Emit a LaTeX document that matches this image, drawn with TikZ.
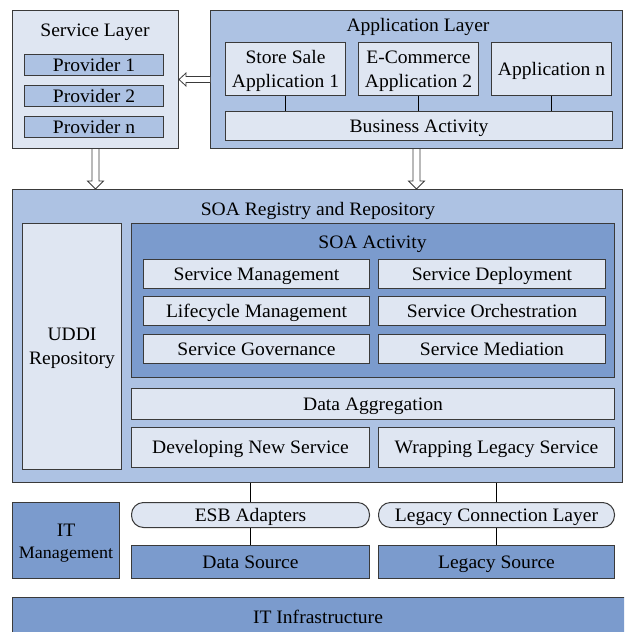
\documentclass[tikz,border=0pt]{standalone}
\usepackage{fontspec}
\setmainfont{Liberation Serif}[FakeStretch=1.03]
\usetikzlibrary{calc}
\definecolor{lightc}{HTML}{DFE6F2}
\definecolor{midc}{HTML}{ADC2E3}
\definecolor{darkc}{HTML}{7B9BCD}
\definecolor{edgec}{HTML}{3A3A3A}
\tikzset{
  base/.style={draw=edgec, line width=1pt, anchor=north west, inner sep=0pt, align=center,
    font=\fontsize{19}{24}\selectfont, text height=12.5pt, text depth=0pt},
  twoline/.style={text height=36.5pt, text depth=0pt},
  lightbox/.style={base, fill=lightc},
  midbox/.style={base, fill=midc},
  darkbox/.style={base, fill=darkc},
  pillbox/.style={base, fill=lightc, rounded corners=12pt},
  title/.style={inner sep=0pt, font=\fontsize{19}{24}\selectfont, align=center, text height=12.5pt, text depth=0pt},
  link/.style={draw=black, line width=1pt},
  hollow/.style={draw=edgec, line width=0.8pt, fill=white, line join=miter}
}
\begin{document}
\begin{tikzpicture}[x=1pt,y=-1pt]
\useasboundingbox (0,0) rectangle (624,632);
\begin{scope}
\clip (0,0) rectangle (624,632);
% Service layer
\node[lightbox, minimum width=166pt, minimum height=138pt] (sl) at (12,10) {};
\node[title] (slt) at (95,30) {Service Layer};
\node[midbox, minimum width=139pt, minimum height=21pt] (p1) at (24,54) {Provider 1};
\node[midbox, minimum width=139pt, minimum height=21pt] (p2) at (24,85) {Provider 2};
\node[midbox, minimum width=139pt, minimum height=21pt] (pn) at (24,116) {Provider n};
% Application layer
\node[midbox, minimum width=412pt, minimum height=138pt] (al) at (210,10) {};
\node[title] (alt) at (418,25) {Application Layer};
\node[lightbox, twoline, minimum width=120pt, minimum height=53pt] (a1) at (225,42) {Store Sale\\Application 1};
\node[lightbox, twoline, minimum width=120pt, minimum height=53pt] (a2) at (358,42) {E-Commerce\\Application 2};
\node[lightbox, minimum width=120pt, minimum height=53pt] (an) at (491,42) {Application n};
\node[lightbox, minimum width=387pt, minimum height=29pt] (ba) at (225,111) {Business Activity};
\draw[link] (a1.south) -- (a1.south |- ba.north);
\draw[link] (a2.south) -- (a2.south |- ba.north);
\draw[link] (an.south) -- (an.south |- ba.north);
% SOA registry
\node[midbox, minimum width=610pt, minimum height=293pt] (reg) at (12,189) {};
\node[title] (regt) at (318,209) {SOA Registry and Repository};
\node[lightbox, twoline, minimum width=99pt, minimum height=246pt] (uddi) at (22,223) {UDDI\\Repository};
\node[darkbox, minimum width=483pt, minimum height=154pt] (act) at (131,223) {};
\node[title] (actt) at (372.5,242) {SOA Activity};
\node[lightbox, minimum width=226pt, minimum height=29pt] (sm) at (143,259) {Service Management};
\node[lightbox, minimum width=227pt, minimum height=29pt] (sd) at (378,259) {Service Deployment};
\node[lightbox, minimum width=226pt, minimum height=29pt] (lm) at (143,296) {Lifecycle Management};
\node[lightbox, minimum width=227pt, minimum height=29pt] (so) at (378,296) {Service Orchestration};
\node[lightbox, minimum width=226pt, minimum height=29pt] (sg) at (143,334) {Service Governance};
\node[lightbox, minimum width=227pt, minimum height=29pt] (smd) at (378,334) {Service Mediation};
\node[lightbox, minimum width=483pt, minimum height=31pt] (da) at (131,388) {Data Aggregation};
\node[lightbox, minimum width=238pt, minimum height=40pt] (dns) at (131,427) {Developing New Service};
\node[lightbox, minimum width=236pt, minimum height=40pt] (wls) at (378,427) {Wrapping Legacy Service};
% Bottom layers
\node[darkbox, text height=36pt, text depth=0pt, minimum width=107pt, minimum height=76pt] (itm) at (12,502) {IT\\[-2pt]{\fontsize{17.5}{21}\selectfont Management}};
\node[pillbox, minimum width=238pt, minimum height=25pt] (esb) at (131,502) {ESB Adapters};
\node[pillbox, minimum width=236pt, minimum height=25pt] (lcl) at (378,502) {Legacy Connection Layer};
\node[darkbox, minimum width=238pt, minimum height=33pt] (ds) at (131,545) {Data Source};
\node[darkbox, minimum width=236pt, minimum height=33pt] (ls) at (378,545) {Legacy Source};
\node[darkbox, minimum width=616pt, minimum height=40pt] (iti) at (12,597) {};
\node[title] (itit) at (318,617) {IT Infrastructure};
\coordinate (c1) at (250,0);
\coordinate (c2) at (496,0);
\draw[link] (c1 |- reg.south) -- (c1 |- esb.north);
\draw[link] (c2 |- reg.south) -- (c2 |- lcl.north);
\draw[link] (c1 |- esb.south) -- (c1 |- ds.north);
\draw[link] (c2 |- lcl.south) -- (c2 |- ls.north);
% Hollow arrows
\draw[hollow] ($(al.west)+(0,-3)$) -- ($(sl.east)+(7,-3)$) -- ($(sl.east)+(7,-6.5)$) -- (sl.east)
  -- ($(sl.east)+(7,6.5)$) -- ($(sl.east)+(7,3)$) -- ($(al.west)+(0,3)$);
\draw[hollow] ($(sl.south)+(-3.5,0)$) -- ($(sl.south |- reg.north)+(-3.5,-8)$) -- ($(sl.south |- reg.north)+(-8,-8)$)
  -- (sl.south |- reg.north) -- ($(sl.south |- reg.north)+(8,-8)$) -- ($(sl.south |- reg.north)+(3.5,-8)$) -- ($(sl.south)+(3.5,0)$);
\draw[hollow] ($(al.south)+(-3.5,0)$) -- ($(al.south |- reg.north)+(-3.5,-8)$) -- ($(al.south |- reg.north)+(-8,-8)$)
  -- (al.south |- reg.north) -- ($(al.south |- reg.north)+(8,-8)$) -- ($(al.south |- reg.north)+(3.5,-8)$) -- ($(al.south)+(3.5,0)$);
\end{scope}
\end{tikzpicture}
\end{document}
